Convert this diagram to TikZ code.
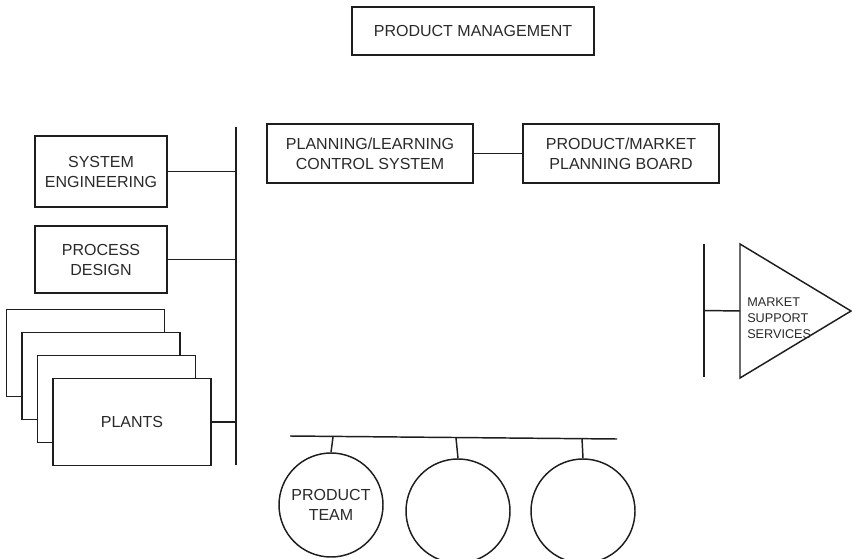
\documentclass[tikz,border=0pt]{standalone}
\usepackage{fontspec}
\setmainfont{Liberation Sans}
\usepackage{tikz}
\usetikzlibrary{positioning, calc}
\definecolor{inkc}{HTML}{1e1e1e}
\definecolor{textc}{HTML}{2a2a2a}

\begin{document}
\begin{tikzpicture}[
  x=0.75pt, y=-0.75pt,
  orgbox/.style={draw=inkc, fill=white, line width=1.1pt, align=center, inner sep=0pt, text=textc, font=\fontsize{12}{15}\selectfont},
  team/.style={draw=inkc, circle, line width=1.1pt, minimum size=78pt, inner sep=0pt, align=center, text=textc, font=\fontsize{12}{14.5}\selectfont},
  link/.style={draw=inkc, line width=1.1pt}
]
\path[fill=white, use as bounding box] (0,0) rectangle (852,559);

\node[orgbox, minimum width=181.5pt, minimum height=36pt] (pm) at (473,31) {PRODUCT MANAGEMENT};

% left column on the bus
\coordinate (busT) at (236,127);
\coordinate (busB) at (236,465);
\node[orgbox, minimum width=99pt, minimum height=53.25pt] (syseng) at (101,171.5) {SYSTEM\\ ENGINEERING};
\node[orgbox, minimum width=99pt, minimum height=50.25pt] (procdes) at (101,259.5) {PROCESS\\ DESIGN};
\node[orgbox, minimum width=118.5pt, minimum height=65.25pt] (plantA) at (85.5,353) {};
\node[orgbox, minimum width=118.5pt, minimum height=65.25pt] (plantB) at (101,376) {};
\node[orgbox, minimum width=118.5pt, minimum height=65.25pt] (plantC) at (116.5,399) {};
\node[orgbox, minimum width=118.5pt, minimum height=65.25pt] (plants) at (132,422) {PLANTS};

\draw[link] (busT) -- (busB);
\draw[link] (syseng.east) -- (syseng.east -| busT);
\draw[link] (procdes.east) -- (procdes.east -| busT);
\draw[link] (plants.east) -- (plants.east -| busT);

% planning row
\node[orgbox, minimum width=154.5pt, minimum height=44.25pt] (planning) at (370,153.5) {PLANNING/LEARNING\\ CONTROL SYSTEM};
\node[orgbox, minimum width=147pt, minimum height=44.25pt] (pmboard) at (621,153.5) {PRODUCT/MARKET\\ PLANNING BOARD};
\draw[link] (planning) -- (pmboard);

% market support
\coordinate (mssT) at (704,244);
\coordinate (mssB) at (704,377);
\coordinate (triTop) at (740,244);
\coordinate (triBot) at (740,378);
\coordinate (triTip) at (851,311);
\draw[link] (mssT) -- (mssB);
\draw[link, line join=miter] (triTop) -- (triTip) -- (triBot) -- cycle;
\draw[link] ($(mssT)!0.5!(mssB)$) -- ($(triTop)!0.5!(triBot)$);
\node[anchor=west, align=left, inner sep=0pt, text=textc, font=\fontsize{9.5}{12}\selectfont] (mss) at (747,318) {MARKET\\ SUPPORT\\ SERVICES};

% product teams
\coordinate (teamL) at (290,436);
\coordinate (teamR) at (617,439);
\coordinate (tapA) at (333,437);
\coordinate (tapB) at (456,438);
\coordinate (tapC) at (582,438.5);
\node[team] (teamA) at (331,505) {PRODUCT\\ TEAM};
\node[team] (teamB) at (458,511) {};
\node[team] (teamC) at (583,511) {};
\draw[link] (teamL) -- (teamR);
\draw[link] (tapA) -- (teamA.north);
\draw[link] (tapB) -- (teamB.north);
\draw[link] (tapC) -- (teamC.north);
\end{tikzpicture}
\end{document}
